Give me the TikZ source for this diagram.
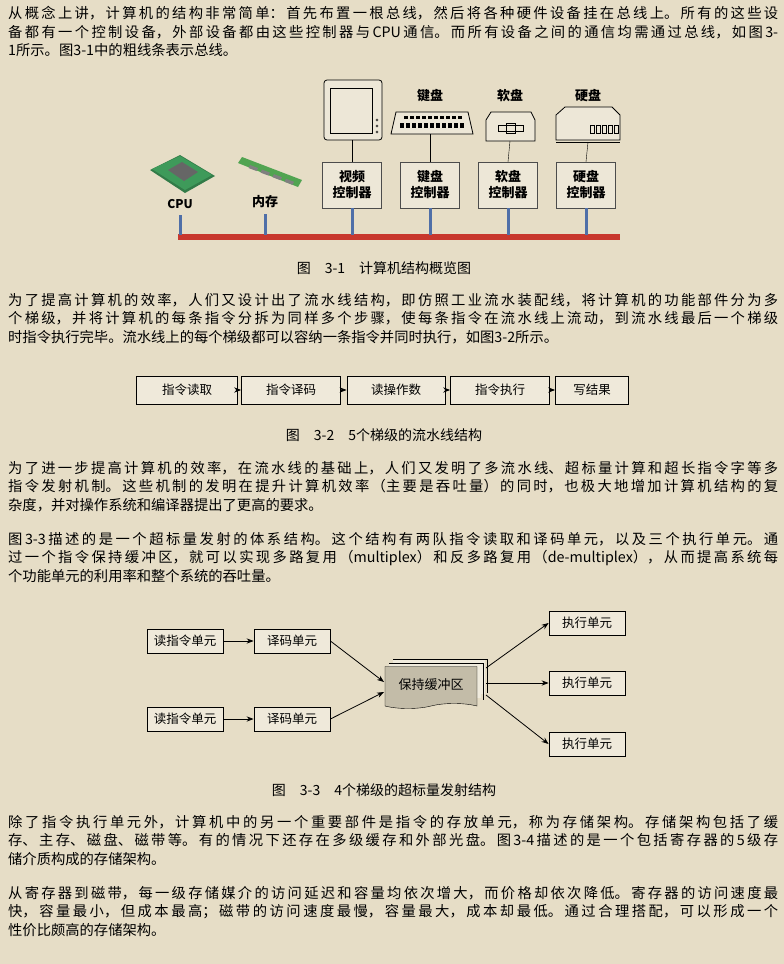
\documentclass[tikz,border=0pt]{standalone}
\usepackage{fontspec}
\setmainfont{Noto Sans CJK SC}
\usetikzlibrary{arrows.meta,shapes.symbols}
\XeTeXlinebreaklocale "zh"
\XeTeXlinebreakskip=0pt plus 1pt
\definecolor{paper}{HTML}{E6DDC6}
\definecolor{busred}{HTML}{C8372D}
\definecolor{stubblue}{HTML}{4F6FA8}
\definecolor{chipgreen}{HTML}{3E9A5A}
\begin{document}
\begin{tikzpicture}[x=1pt,y=-1pt,
    para/.style={anchor=north west,inner sep=0pt,text width=770pt,align=justify,
      font=\fontsize{14.3}{18.6}\selectfont},
    caption/.style={font=\fontsize{14}{16}\selectfont},
    ctrl/.style={draw=black!70,fill=white!30!paper,minimum width=59pt,minimum height=46pt,
      align=center,inner sep=1pt,font=\fontsize{13}{16}\selectfont\bfseries},
    stage/.style={draw,thick,fill=white!35!paper,minimum height=28pt,inner sep=2pt,
      font=\fontsize{12.5}{14}\selectfont},
    unit/.style={draw,thick,fill=white!35!paper,minimum width=76pt,minimum height=24pt,
      inner sep=1pt,font=\fontsize{12.5}{14}\selectfont},
    stub/.style={stubblue,line width=3pt},
    flow/.style={-{Stealth[length=7pt]},thick}]
  \fill[paper] (0,0) rectangle (784,964);
  \useasboundingbox (0,0) rectangle (784,964);
  % paragraphs
  \node[para] (p1) at (8,6) {从概念上讲，计算机的结构非常简单：首先布置一根总线，然后将各种硬件设备挂在总线上。所有的这些设\linebreak 备都有一个控制设备，外部设备都由这些控制器与CPU通信。而所有设备之间的通信均需通过总线，如图3-\linebreak 1所示。图3-1中的粗线条表示总线。};
  \node[para] (p2) at (8,293) {为了提高计算机的效率，人们又设计出了流水线结构，即仿照工业流水装配线，将计算机的功能部件分为多\linebreak 个梯级，并将计算机的每条指令分拆为同样多个步骤，使每条指令在流水线上流动，到流水线最后一个梯级\linebreak 时指令执行完毕。流水线上的每个梯级都可以容纳一条指令并同时执行，如图3-2所示。};
  \node[para] (p3) at (8,461) {为了进一步提高计算机的效率，在流水线的基础上，人们又发明了多流水线、超标量计算和超长指令字等多\linebreak 指令发射机制。这些机制的发明在提升计算机效率（主要是吞吐量）的同时，也极大地增加计算机结构的复\linebreak 杂度，并对操作系统和编译器提出了更高的要求。};
  \node[para] (p4) at (8,532) {图3-3描述的是一个超标量发射的体系结构。这个结构有两队指令读取和译码单元，以及三个执行单元。通\linebreak 过一个指令保持缓冲区，就可以实现多路复用（multiplex）和反多路复用（de-multiplex），从而提高系统每\linebreak 个功能单元的利用率和整个系统的吞吐量。};
  \node[para] (p5) at (8,815) {除了指令执行单元外，计算机中的另一个重要部件是指令的存放单元，称为存储架构。存储架构包括了缓\linebreak 存、主存、磁盘、磁带等。有的情况下还存在多级缓存和外部光盘。图3-4描述的是一个包括寄存器的5级存\linebreak 储介质构成的存储架构。};
  \node[para] (p6) at (8,886) {从寄存器到磁带，每一级存储媒介的访问延迟和容量均依次增大，而价格却依次降低。寄存器的访问速度最\linebreak 快，容量最小，但成本最高；磁带的访问速度最慢，容量最大，成本却最低。通过合理搭配，可以形成一个\linebreak 性价比颇高的存储架构。};

  % figure 3-1
  \draw[busred,line width=6pt] (178,237) -- (620,237);
  \node[ctrl] (vc) at (352,185) {视频\\控制器};
  \node[ctrl] (kc) at (430,185) {键盘\\控制器};
  \node[ctrl] (fc) at (508,185) {软盘\\控制器};
  \node[ctrl] (hc) at (586,185) {硬盘\\控制器};
  \foreach \c in {vc,kc,fc,hc}
    \draw[stub] (\c.south) -- (\c.south |- 0,235);
  \node[font=\fontsize{12}{14}\selectfont\bfseries] (cpu) at (180,204) {CPU};
  \node[font=\fontsize{13}{14}\selectfont\bfseries] (mem) at (265,202) {内存};
  \draw[stub] (180,215) -- (180,235);
  \draw[stub] (265,214) -- (265,235);
  % cpu chip
  \fill[chipgreen!80!black] (150,170) -- (180,155) -- (215,176) -- (185,193) -- cycle;
  \fill[chipgreen] (152,169) -- (180,156) -- (212,175) -- (185,190) -- cycle;
  \fill[black!60] (168,170) -- (182,162) -- (198,172) -- (184,181) -- cycle;
  % memory stick
  \fill[chipgreen!90!yellow] (238,163) -- (242,157) -- (302,180) -- (298,187) -- cycle;
  \foreach \i in {0,1,2,3} \fill[black!50] (250+\i*12,165+\i*4.6) -- ++(8,3) -- ++(-1.5,3) -- ++(-8,-3) -- cycle;
  % monitor
  \draw[thick,fill=white!30!paper,rounded corners=3pt] (324,80) rectangle (382,140);
  \draw[thick] (330,88) rectangle (372,133);
  \foreach \y in {120,126,132} \draw (377,\y) circle (1.2pt);
  \draw (vc.north) -- (352,140);
  % keyboard
  \node[font=\fontsize{13}{14}\selectfont\bfseries] (kl) at (430,96) {键盘};
  \draw[thick,fill=white!30!paper] (396,112) -- (468,112) -- (473,134) -- (391,134) -- cycle;
  \foreach \x in {404,410,...,458} \fill (\x,116) rectangle ++(4,3);
  \foreach \x in {400,406,...,464} \fill (\x,123) rectangle ++(4,5);
  \draw (kc.north) -- (430,134);
  % floppy
  \node[font=\fontsize{13}{14}\selectfont\bfseries] (fl) at (510,96) {软盘};
  \draw[thick,fill=white!30!paper] (486,120) -- (491,112) -- (531,112) -- (535,120) -- (535,141) -- (486,141) -- cycle;
  \draw (498,125) rectangle (523,131);
  \draw (506,123) rectangle (515,133);
  \draw (fc.north) -- (510,141);
  % hard disk
  \node[font=\fontsize{13}{14}\selectfont\bfseries] (hl) at (588,96) {硬盘};
  \draw[thick,fill=white!30!paper] (556,115) -- (565,107) -- (612,107) -- (620,115) -- (620,140) -- (556,140) -- cycle;
  \draw (556,142) -- (620,142);
  \foreach \x in {590,596,...,614} \draw (\x,125) rectangle ++(4,8);
  \draw (hc.north) -- (588,142);
  \node[caption] (cap1) at (384,268) {图\quad 3-1\quad 计算机结构概览图};

  % figure 3-2
  \node[stage,minimum width=101pt] (s1) at (187,390) {指令读取};
  \node[stage,minimum width=99pt] (s2) at (291,390) {指令译码};
  \node[stage,minimum width=98pt] (s3) at (396,390) {读操作数};
  \node[stage,minimum width=99pt] (s4) at (500,390) {指令执行};
  \node[stage,minimum width=73pt] (s5) at (592,390) {写结果};
  \foreach \a/\b in {s1/s2,s2/s3,s3/s4,s4/s5} \draw[flow] (\a) -- (\b);
  \node[caption] (cap2) at (384,435) {图\quad 3-2\quad 5个梯级的流水线结构};

  % figure 3-3
  \node[unit] (r1) at (185,641) {读指令单元};
  \node[unit] (r2) at (185,719) {读指令单元};
  \node[unit] (d1) at (292,641) {译码单元};
  \node[unit] (d2) at (292,719) {译码单元};
  \node[unit] (e1) at (587,623) {执行单元};
  \node[unit] (e2) at (587,683) {执行单元};
  \node[unit] (e3) at (587,744) {执行单元};
  \foreach \k in {2,1} \fill[white!40!paper] ([xshift=\k*4pt,yshift=\k*4pt]385,667) rectangle ++(92,35);
  \draw[thin] (393,659) -- (487,659) -- (487,693);
  \draw[thin] (389,663) -- (483,663) -- (483,700);
  \node[tape,draw,fill=black!15!paper,minimum width=92pt,minimum height=42pt,tape bend top=none,
    font=\fontsize{13}{14}\selectfont] (buf) at (431,685) {保持缓冲区};
  \draw[flow] (r1) -- (d1);
  \draw[flow] (r2) -- (d2);
  \draw[flow] (d1.east) -- (384,682);
  \draw[flow] (d2.east) -- (384,692);
  \draw[flow] (486,668) -- (e1.west);
  \draw[flow] (486,683) -- (e2.west);
  \draw[flow] (486,695) -- (e3.west);
  \node[caption] (cap3) at (384,790) {图\quad 3-3\quad 4个梯级的超标量发射结构};
\end{tikzpicture}
\end{document}
